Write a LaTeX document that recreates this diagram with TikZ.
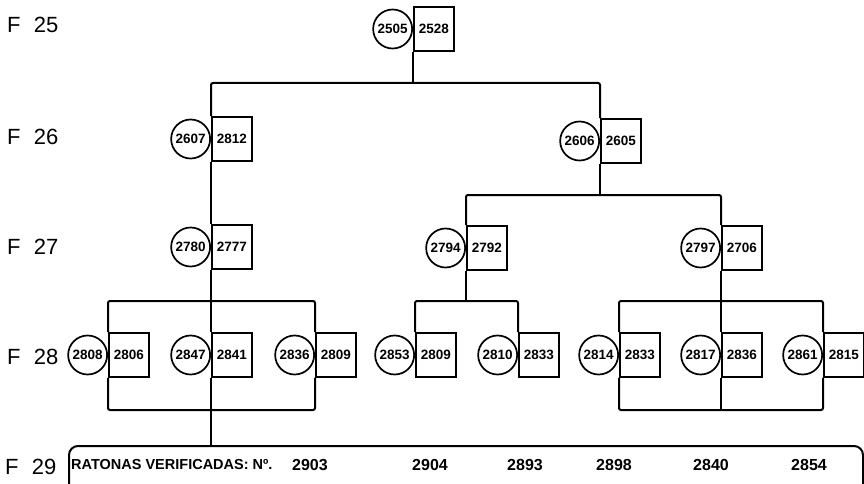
\documentclass[tikz,border=0pt]{standalone}
\usepackage{fontspec}
\setmainfont{Liberation Sans}
\newcommand\pairfont{\fontsize{13.5}{14}\selectfont\bfseries}
\newcommand\genfont{\fontsize{22}{23}\selectfont}
\newcommand\rowfont{\fontsize{14.5}{15}\selectfont\bfseries}
\newcommand\numfont{\fontsize{16}{17}\selectfont\bfseries}
\newcommand\pairnode[5]{%
  \node[fem, anchor=east] (c#1) at (#2,#3) {#4};
  \node[mal, anchor=west] (s#1) at (#2,#3) {#5};
}
\begin{document}
\begin{tikzpicture}[x=1pt,y=-1pt,
  fem/.style={circle, draw, line width=1.7pt, minimum size=39pt, inner sep=0pt, font=\pairfont},
  mal/.style={rectangle, draw, line width=1.7pt, minimum width=40pt, minimum height=44pt, inner sep=0pt, font=\pairfont},
  link/.style={line width=2pt, rounded corners=2pt},
  gen/.style={font=\genfont, inner sep=0pt},
  rowtxt/.style={font=\rowfont, inner sep=0pt},
  num/.style={font=\numfont, inner sep=0pt}]
\clip (0,0) rectangle (864,484);
\fill[white] (0,0) rectangle (864,484);

% generation labels
\node[gen, anchor=west] (g25) at (7,25) {F\hspace{0.6em}25};
\node[gen, anchor=west] (g26) at (7,137) {F\hspace{0.6em}26};
\node[gen, anchor=west] (g27) at (7,247) {F\hspace{0.6em}27};
\node[gen, anchor=west] (g28) at (7,357) {F\hspace{0.6em}28};
\node[gen, anchor=west] (g29) at (5,467) {F\hspace{0.6em}29};

% pairs
\pairnode{2505}{413}{29}{2505}{2528}
\pairnode{2607}{211}{139}{2607}{2812}
\pairnode{2606}{600}{141}{2606}{2605}
\pairnode{2780}{211}{247}{2780}{2777}
\pairnode{2794}{466}{248}{2794}{2792}
\pairnode{2797}{721}{248}{2797}{2706}
\pairnode{2808}{108}{355}{2808}{2806}
\pairnode{2847}{211}{355}{2847}{2841}
\pairnode{2836}{315}{355}{2836}{2809}
\pairnode{2853}{415}{355}{2853}{2809}
\pairnode{2810}{518}{355}{2810}{2833}
\pairnode{2814}{619}{355}{2814}{2833}
\pairnode{2817}{721}{355}{2817}{2836}
\pairnode{2861}{823}{355}{2861}{2815}

% F29 box
\node[draw, line width=2pt, rounded corners=9pt, minimum width=794pt, minimum height=80pt,
      inner sep=0pt, anchor=north west] (f29) at (68,445) {};
\node[rowtxt, anchor=west] (rv) at (71,465) {RATONAS VERIFICADAS: Nº.};
\node[num] (n1) at (310,465) {2903};
\node[num] (n2) at (430,465) {2904};
\node[num] (n3) at (525,465) {2893};
\node[num] (n4) at (614,465) {2898};
\node[num] (n5) at (711,465) {2840};
\node[num] (n6) at (809,465) {2854};

% level coordinates
\coordinate (h1) at (0,83);
\coordinate (h2) at (0,195);
\coordinate (h3) at (0,301);
\coordinate (h4) at (0,410);

% F25 -> F26
\draw[link] (s2505.south west) -- (s2505.south west |- h1);
\draw[link] (s2607.north west) -- (s2607.north west |- h1) -- (s2606.north west |- h1) -- (s2606.north west);

% F26 -> F27
\draw[link] (s2607.south west) -- (s2780.north west);
\draw[link] (s2606.south west) -- (s2606.south west |- h2);
\draw[link] (s2794.north west) -- (s2794.north west |- h2) -- (s2797.north west |- h2) -- (s2797.north west);

% F27 -> F28 left group
\draw[link] (s2780.south west) -- (s2847.north west);
\draw[link] (s2808.north west) -- (s2808.north west |- h3) -- (s2836.north west |- h3) -- (s2836.north west);
\draw[link] (s2808.south west) -- (s2808.south west |- h4) -- (s2836.south west |- h4) -- (s2836.south west);
\draw[link] (s2847.south west) -- (s2847.south west |- f29.north);

% F27 -> F28 middle group
\draw[link] (s2794.south west) -- (s2794.south west |- h3);
\draw[link] (s2853.north west) -- (s2853.north west |- h3) -- (s2810.north west |- h3) -- (s2810.north west);

% F27 -> F28 right group
\draw[link] (s2797.south west) -- (s2817.north west);
\draw[link] (s2814.north west) -- (s2814.north west |- h3) -- (s2861.north west |- h3) -- (s2861.north west);
\draw[link] (s2814.south west) -- (s2814.south west |- h4) -- (s2861.south west |- h4) -- (s2861.south west);
\draw[link] (s2817.south west) -- (s2817.south west |- h4);
\end{tikzpicture}
\end{document}
